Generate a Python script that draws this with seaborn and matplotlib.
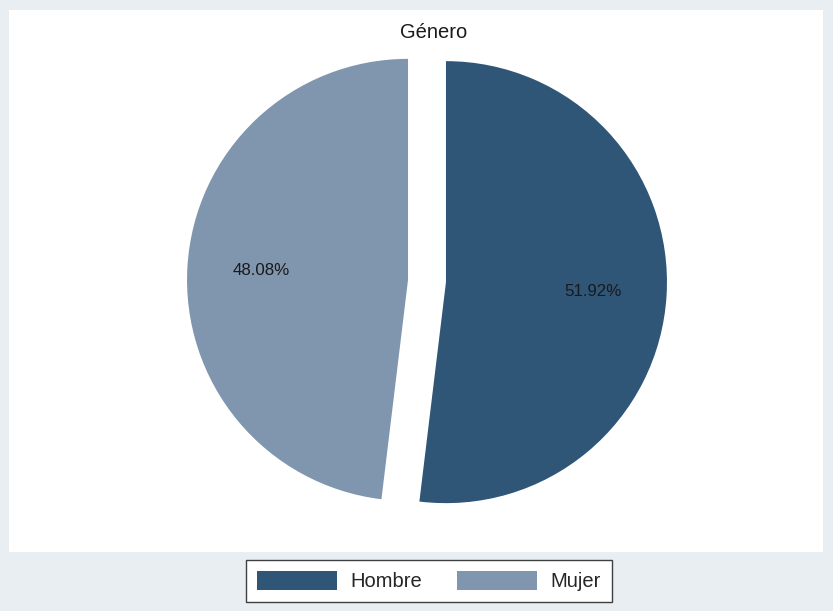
import matplotlib
matplotlib.use("Agg")
import matplotlib.pyplot as plt
import matplotlib.patches as mpatches
import seaborn as sns

categories = ["Hombre", "Mujer"]
values = [51.92, 48.08]
pct_labels = ["51.92%", "48.08%"]
title = "Género"

sns.set_style("white")
plt.rcParams['font.family'] = ['Liberation Sans', 'DejaVu Sans']

colors = ["#2f5577", "#8096ae"]
bg = "#e8eef2"

W, H = 833, 611
fig = plt.figure(figsize=(W / 100, H / 100), dpi=100, facecolor=bg)

# inner white plot region
inner = fig.add_axes([9 / W, 1 - 552 / H, (823 - 9) / W, (552 - 10) / H])
inner.set_facecolor("white")
for s in inner.spines.values():
    s.set_visible(False)
inner.set_xticks([]); inner.set_yticks([])

ax = fig.add_axes([0, 0, 1, 1])
ax.set_xlim(0, W)
ax.set_ylim(0, H)
ax.axis("off")

r = 221
cx, cy = 427, H - 281
wedges, texts, autotexts = ax.pie(
    values, colors=colors, startangle=90, counterclock=False,
    explode=[19, 19], radius=r, center=(cx, cy),
    autopct=lambda p: "", pctdistance=0.665,
    wedgeprops=dict(linewidth=0), frame=True)
for at, lab in zip(autotexts, pct_labels):
    at.set_text(lab)
    at.set_fontsize(12.2)
    at.set_color("#1a1a1a")
ax.set_xlim(0, W)
ax.set_ylim(0, H)
ax.set_aspect("auto")
ax.axis("off")

fig.text(434 / W, 1 - 32 / H, title, ha="center", va="center", fontsize=14.5, color="#1a1a1a")

handles = [mpatches.Patch(facecolor=c, edgecolor="none", label=l) for c, l in zip(colors, categories)]
leg = fig.legend(handles=handles, loc="center", bbox_to_anchor=(429 / W, 1 - 581 / H),
                 ncol=2, fontsize=14.5, frameon=True, fancybox=False,
                 handlelength=3.97, handleheight=1.09, handletextpad=0.65,
                 columnspacing=1.74, borderpad=0.55, edgecolor="#404040")
leg.get_frame().set_linewidth(1.0)
leg.get_frame().set_facecolor("white")
leg.get_frame().set_alpha(1)

fig.savefig("out.png", dpi=100, facecolor=bg)
